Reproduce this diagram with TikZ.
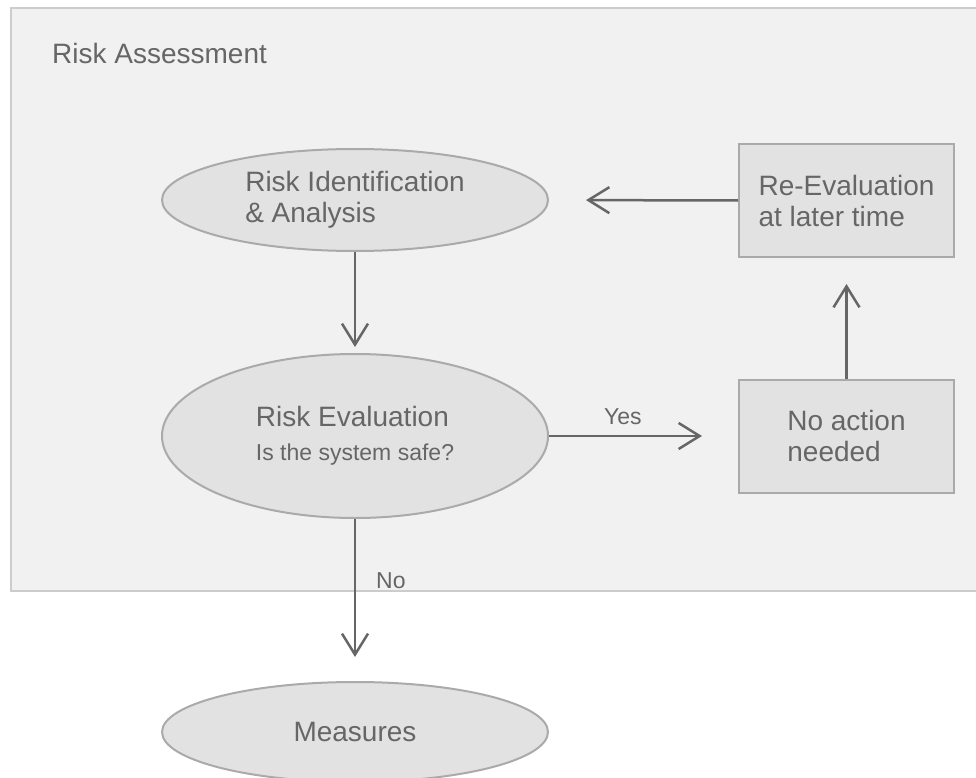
\documentclass[tikz,border=0pt]{standalone}
\usepackage{fontspec}
\setmainfont{Liberation Sans}
\usetikzlibrary{shapes.geometric,arrows.meta}
\definecolor{txt}{HTML}{666666}
\definecolor{bgfill}{HTML}{F1F1F1}
\definecolor{bgline}{HTML}{CCCCCC}
\definecolor{shfill}{HTML}{E2E2E2}
\definecolor{shline}{HTML}{AAAAAA}
\definecolor{arrc}{HTML}{666666}
\begin{document}
\begin{tikzpicture}[x=1pt,y=-1pt,
  ell/.style={ellipse, draw=shline, fill=shfill, line width=2pt, minimum width=386pt,
    inner sep=0pt, align=left, text=txt, font=\fontsize{28}{31}\selectfont},
  boxn/.style={rectangle, draw=shline, fill=shfill, line width=2pt, minimum width=215pt,
    minimum height=113pt, inner sep=0pt, align=left, text=txt, font=\fontsize{28}{31}\selectfont},
  lbl/.style={text=txt, inner sep=0pt, font=\fontsize{23}{27}\selectfont},
  arr/.style={draw=arrc, line width=2.5pt, -{Straight Barb[length=21pt,width=26pt]}}]
\useasboundingbox (0,0) rectangle (976,778);
\clip (0,0) rectangle (976,778);
\draw[bgline, fill=bgfill, line width=2pt] (11,8) rectangle (1000,591);
\node[anchor=base west, text=txt, inner sep=0pt, font=\fontsize{28}{31}\selectfont] (title) at (52,64) {Risk Assessment};

\node[ell, minimum height=102pt] (ident) at (355,200) {Risk Identification\\\& Analysis};
\node[ell, minimum height=164pt, font=\fontsize{28}{34}\selectfont] (eval) at (355,436) {Risk Evaluation\\\fontsize{23}{34}\selectfont Is the system safe?};
\node[ell, minimum height=100pt] (meas) at (355,732) {Measures};
\node[boxn] (reeval) at (846.5,200.5) {Re-Evaluation\\at later time};
\node[boxn] (noact) at (846.5,436) {No action\\needed};

\draw[arr, shorten >=37pt] (reeval.west) -- (ident.east);
\draw[arr, shorten >=6pt] (ident.south) -- (eval.north);
\draw[arr, shorten >=36pt] (eval.east) -- (noact.west);
\draw[arr, shorten >=26pt] (noact.north) -- (reeval.south);
\draw[arr, shorten >=24pt] (eval.south) -- (meas.north);

\node[lbl, anchor=base west] (yes) at (604,424) {Yes};
\node[lbl, anchor=base west] (no) at (376,588) {No};
\end{tikzpicture}
\end{document}
